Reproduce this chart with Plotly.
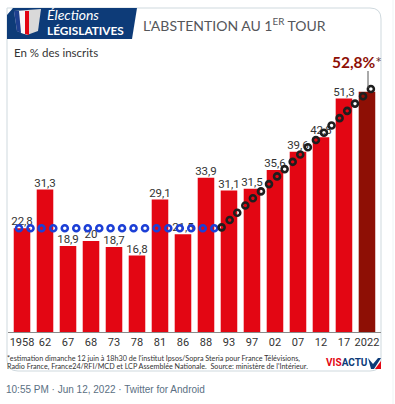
import plotly.graph_objects as go

W, H = 395, 404
L, R, T, B = 8, 14, 60, 72   # margins in px

years = ["1958","62","67","68","73","78","81","86","88","93","97","02","07","12","17","2022"]
values = [22.8,31.3,18.9,20,18.7,16.8,29.1,21.5,33.9,31.1,31.5,35.6,39.6,42.8,51.3,52.8]
labels = ["22,8","31,3","18,9","20","18,7","16,8","29,1","21,5","33,9","31,1","31,5","35,6","39,6","42,8","51,3",""]
bar_colors = ["#e30613"]*15 + ["#8e0f05"]

blue_x = [-0.13,0.37,0.85,1.36,1.86,2.36,2.86,3.36,3.85,4.35,4.85,5.35,5.85,6.36,6.86,7.36,7.86,8.36]
blue_y = [22.8]*18
black_x = [8.68,9.03,9.36,9.71,10.04,10.39,10.74,11.09,11.42,11.77,12.10,12.43,12.78,13.13,13.46,13.81,14.14,14.48,14.83,15.17]
black_y = [23.0,24.6,26.2,27.8,29.4,30.9,32.5,34.2,35.8,37.4,39.0,40.6,42.2,43.8,45.4,47.0,48.6,50.2,51.8,53.4]

pw, ph = W-L-R, H-T-B
def px(x): return (x-L)/pw
def py(y): return (H-B-y)/ph

FONT = "Roboto"
positions = list(range(16))
fig = go.Figure()
fig.add_bar(x=positions, y=values, marker=dict(color=bar_colors, line_width=0), width=0.72,
            cliponaxis=False, hoverinfo="skip")
fig.add_scatter(x=positions[:15], y=values[:15], text=labels[:15], mode="text", textposition="top center",
                cliponaxis=False, textfont=dict(family=FONT, size=11.5, color="#333333"), hoverinfo="skip")
fig.add_scatter(x=blue_x, y=blue_y, mode="markers", cliponaxis=False,
                marker=dict(symbol="circle-open", size=6, color="#1c3fd6", line=dict(width=2.6, color="#1c3fd6")))
fig.add_scatter(x=black_x, y=black_y, mode="markers", cliponaxis=False,
                marker=dict(symbol="circle-open", size=6, color="#1e1e1e", line=dict(width=2.6, color="#1e1e1e")))

shapes = [
    dict(type="line", xref="paper", yref="paper", x0=px(393), x1=px(393), y0=py(0), y1=py(404),
         layer="below", line=dict(color="#eff3f4", width=1)),
    dict(type="path", xref="paper", yref="paper", layer="below", fillcolor="white",
         line=dict(color="#cfd9de", width=1),
         path=f"M{px(7)},{py(8)} L{px(370)},{py(8)} Q{px(381)},{py(8)} {px(381)},{py(19)} "
              f"L{px(381)},{py(360)} Q{px(381)},{py(371)} {px(370)},{py(371)} "
              f"L{px(18)},{py(371)} Q{px(7)},{py(371)} {px(7)},{py(360)} Z"),
    dict(type="path", xref="paper", yref="paper", fillcolor="#0d3b78", line_width=0,
         path=f"M{px(13)},{py(8)} L{px(137)},{py(8)} L{px(132)},{py(39)} L{px(7)},{py(39)} L{px(7)},{py(15)} Z"),
    dict(type="path", xref="paper", yref="paper", fillcolor="#d9d9d9", line_width=0,
         path=f"M{px(14)},{py(11)} L{px(41)},{py(9)} L{px(38)},{py(31)} L{px(27)},{py(35)} L{px(17)},{py(31)} Z"),
    dict(type="path", xref="paper", yref="paper", fillcolor="#f8f8f8", line_width=0,
         path=f"M{px(19)},{py(11)} L{px(25)},{py(11)} L{px(25)},{py(34)} L{px(21)},{py(33)} Z"),
    dict(type="path", xref="paper", yref="paper", fillcolor="#1d3f8f", line_width=0,
         path=f"M{px(14)},{py(11)} L{px(19)},{py(11)} L{px(21)},{py(33)} L{px(17)},{py(31)} Z"),
    dict(type="path", xref="paper", yref="paper", fillcolor="#e30613", line_width=0,
         path=f"M{px(25)},{py(11)} L{px(29)},{py(11)} L{px(29)},{py(35)} L{px(25)},{py(34)} Z"),
    dict(type="line", xref="paper", yref="paper", x0=px(368), x1=px(368), y0=py(71), y1=py(88),
         line=dict(color="#555555", width=1)),
    dict(type="path", xref="paper", yref="paper", fillcolor="#0d3b78", line_width=0,
         path=f"M{px(368)},{py(358)} L{px(373)},{py(364)} L{px(378)},{py(358)} L{px(381)},{py(358)} L{px(374)},{py(369)} L{px(371)},{py(369)} Z"),
    dict(type="path", xref="paper", yref="paper", fillcolor="#e30613", line_width=0,
         path=f"M{px(375)},{py(369)} L{px(381)},{py(361)} L{px(381)},{py(369)} Z"),
]

def note(x, y, text, size, color="#333333", anchor="left", family=FONT):
    return dict(xref="paper", yref="paper", x=px(x), y=py(y), text=text, showarrow=False,
                xanchor=anchor, yanchor="middle", align="left",
                font=dict(family=family, size=size, color=color))

annotations = [
    note(45, 14.8, "<i>Élections</i>", 14, "white", family="Lato"),
    note(45, 31, "<b>LÉGISLATIVES</b>", 11.8, "white", family="Lato"),
    note(141, 24, "L'ABSTENTION AU 1<sup>ER</sup> TOUR", 14, "#55565a", family="Lato"),
    note(12, 52, "En % des inscrits", 11.5, "#333333", family="Lato"),
    note(330, 62, "<b>52,8%</b><span style='color:#6b3a36'>*</span>", 15.5, "#8e0f05", family="Lato"),
    note(5, 358, "*estimation dimanche 12 juin à 18h30 de l'institut Ipsos/Sopra Steria pour France Télévisions,", 7.2, "#333333", family="Lato"),
    note(5, 366, "Radio France, France24/RFI/MCD et LCP Assemblée Nationale.  Source: ministère de l'Intérieur.", 7.2, "#333333", family="Lato"),
    note(324, 362, "<b><span style='color:#e30613'>VIS</span>ACTU</b>", 10, "#0d3b78", family="Roboto"),
    note(4, 389, "10:55 PM · Jun 12, 2022 · Twitter for Android", 10, "#5b7083", family="Liberation Sans"),
]

fig.update_layout(
    width=W, height=H, autosize=False, showlegend=False,
    margin=dict(l=L, r=R, t=T, b=B, pad=0),
    paper_bgcolor="white", plot_bgcolor="rgba(0,0,0,0)",
    shapes=shapes, annotations=annotations,
    xaxis=dict(range=[-0.609, 15.61], tickmode="array", tickvals=positions, ticktext=years,
               showgrid=False, zeroline=False, showline=True, linecolor="#8a8a8a", linewidth=1, ticks="",
               tickangle=0, tickfont=dict(family=FONT, size=11, color="#333333")),
    yaxis=dict(range=[0, 59.78], visible=False, showgrid=False, zeroline=False),
)
fig.write_html("out.html", post_script="document.body.style.margin='0';document.documentElement.style.overflow='hidden';",
               config={"displayModeBar": False})
